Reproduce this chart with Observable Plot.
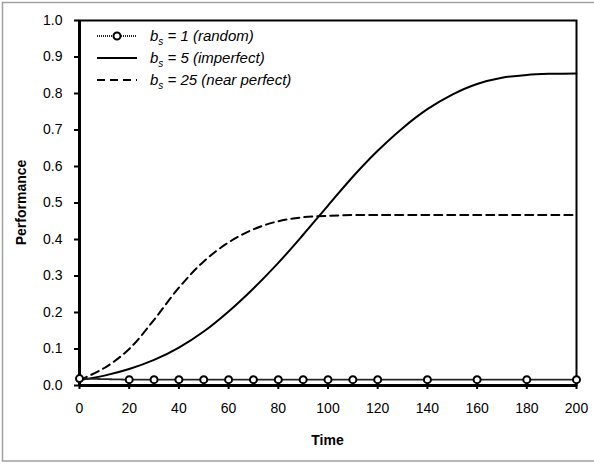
<!DOCTYPE html>
<html><head><meta charset="utf-8">
<script src="https://cdn.jsdelivr.net/npm/d3@7"></script>
<script src="https://cdn.jsdelivr.net/npm/@observablehq/plot@0.6"></script>
<style>
body{margin:0;background:#fff;}
#chart{position:relative;width:594px;height:464px;overflow:hidden;}
</style>
</head><body><div id="chart"></div>
<script>
// ---- data ----
const randomTime = [0, 20, 30, 40, 50, 60, 70, 80, 90, 100, 110, 120, 140, 160, 180, 200];
const randomPerf = [0.019, 0.016, 0.016, 0.016, 0.016, 0.016, 0.016, 0.016, 0.016, 0.016, 0.016, 0.016, 0.016, 0.016, 0.016, 0.016];
const imperfectTime = [0, 10, 20, 30, 40, 50, 60, 70, 80, 90, 100, 110, 120, 130, 140, 150, 160, 170, 180, 190, 200];
const imperfectPerf = [0.015, 0.027, 0.045, 0.07, 0.104, 0.148, 0.203, 0.266, 0.336, 0.413, 0.493, 0.572, 0.643, 0.705, 0.757, 0.797, 0.826, 0.843, 0.851, 0.854, 0.855];
const nearTime = [0, 10, 20, 30, 40, 50, 60, 70, 80, 90, 100, 110, 120, 140, 160, 180, 200];
const nearPerf = [0.015, 0.048, 0.1, 0.18, 0.268, 0.34, 0.392, 0.428, 0.45, 0.461, 0.465, 0.467, 0.467, 0.467, 0.467, 0.467, 0.467];
const xTicks = [0, 20, 40, 60, 80, 100, 120, 140, 160, 180, 200];
const yTicks = [0, 0.1, 0.2, 0.3, 0.4, 0.5, 0.6, 0.7, 0.8, 0.9, 1.0];
const legendValues = ["1", "5", "25"];
const legendNames = ["(random)", "(imperfect)", "(near perfect)"];
const xLabel = "Time";
const yLabel = "Performance";

const randomData = randomTime.map((t, i) => ({t, p: randomPerf[i]}));
const imperfectData = imperfectTime.map((t, i) => ({t, p: imperfectPerf[i]}));
const nearData = nearTime.map((t, i) => ({t, p: nearPerf[i]}));

const font = "'Liberation Sans', Arial, sans-serif";

const plot = Plot.plot({
  width: 594,
  height: 464,
  marginLeft: 79,
  marginRight: 18,
  marginTop: 20,
  marginBottom: 79,
  style: {fontFamily: font, fontSize: "14px", color: "#000", background: "transparent"},
  x: {domain: [0, 200]},
  y: {domain: [0, 1]},
  marks: [
    Plot.frame({stroke: "#000", strokeWidth: 2}),
    Plot.axisY(yTicks, {tickSize: 5, tickPadding: 12, tickFormat: d3.format(".1f"), strokeWidth: 2, label: null, fontSize: 14}),
    Plot.axisX(xTicks, {tickSize: 4, tickPadding: 14, strokeWidth: 2, label: null, fontSize: 14}),
    Plot.axisX(xTicks, {tickSize: -4, tickFormat: () => "", strokeWidth: 2, label: null}),
    Plot.line(nearData, {x: "t", y: "p", curve: "catmull-rom", stroke: "#000", strokeWidth: 2, strokeDasharray: "8,5"}),
    Plot.line(imperfectData, {x: "t", y: "p", curve: "catmull-rom", stroke: "#000", strokeWidth: 2}),
    Plot.ruleY([0], {stroke: "#000", strokeWidth: 3}),
    Plot.ruleX([0], {stroke: "#000", strokeWidth: 3}),
    Plot.line(randomData, {x: "t", y: "p", stroke: "#222", strokeWidth: 1.8, strokeDasharray: "1,1"}),
    Plot.dot(randomData, {x: "t", y: "p", r: 3.5, fill: "#fff", stroke: "#000", strokeWidth: 2})
  ]
});

document.getElementById("chart").appendChild(plot);

const svg = d3.select(plot);
// axis titles
svg.append("text")
  .attr("x", (79 + 576) / 2).attr("y", 441)
  .attr("text-anchor", "middle").attr("dominant-baseline", "middle")
  .attr("font-weight", "bold").attr("font-size", 14).attr("font-family", font)
  .text(xLabel);
svg.append("text")
  .attr("transform", `translate(22,${(20 + 385) / 2}) rotate(-90)`)
  .attr("text-anchor", "middle").attr("dominant-baseline", "middle")
  .attr("font-weight", "bold").attr("font-size", 14).attr("font-family", font)
  .text(yLabel);

// outer border (right edge lies outside the picture)
svg.append("rect")
  .attr("x", 2.5).attr("y", 2.5).attr("width", 620).attr("height", 458.5)
  .attr("fill", "none").attr("stroke", "#a0a0a0").attr("stroke-width", 1.5);

// legend
const rowsY = [36, 58, 80];
const styles = [
  {dash: "1,1", w: 1.8, stroke: "#222", marker: true},
  {dash: null, w: 2, stroke: "#000", marker: false},
  {dash: "8,5", w: 2, stroke: "#000", marker: false}
];
const lg = svg.append("g").attr("font-family", font).attr("font-size", 15)
  .attr("font-style", "italic").attr("text-anchor", "start");
rowsY.forEach((y, i) => {
  const s = styles[i];
  const ln = lg.append("line").attr("x1", 97).attr("x2", 137).attr("y1", y).attr("y2", y)
    .attr("stroke", s.stroke).attr("stroke-width", s.w);
  if (s.dash) ln.attr("stroke-dasharray", s.dash);
  if (s.marker) lg.append("circle").attr("cx", 117).attr("cy", y).attr("r", 3.5)
    .attr("fill", "#fff").attr("stroke", "#000").attr("stroke-width", 2);
  const t = lg.append("text").attr("x", 150).attr("y", y).attr("dy", "0.35em");
  t.append("tspan").text("b");
  t.append("tspan").attr("font-size", 10).attr("dy", 4).text("s");
  t.append("tspan").attr("dy", -4).text(` = ${legendValues[i]} ${legendNames[i]}`);
});
</script>
</body></html>
